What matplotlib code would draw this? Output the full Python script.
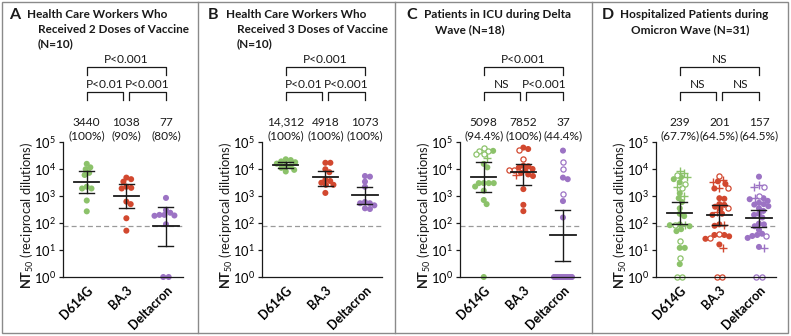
import numpy as np
import matplotlib
matplotlib.use("Agg")
import matplotlib.pyplot as plt
import matplotlib.transforms as mtransforms
from matplotlib.lines import Line2D
from matplotlib.patches import Rectangle

plt.rcParams['font.family'] = ['Lato', 'DejaVu Sans']
plt.rcParams['mathtext.fontset'] = 'custom'
plt.rcParams['mathtext.rm'] = 'Lato'
plt.rcParams['mathtext.bf'] = 'Lato:bold'
plt.rcParams['mathtext.it'] = 'Lato:italic'

# ---------------- data ----------------
categories = ["D614G", "BA.3", "Deltacron"]
colors = ["#8cc26a", "#d2482f", "#9c73c4"]
panel_letters = ["A", "B", "C", "D"]
panel_titles = [
    ["Health Care Workers Who", "Received 2 Doses of Vaccine", "(N=10)"],
    ["Health Care Workers Who", "Received 3 Doses of Vaccine", "(N=10)"],
    ["Patients in ICU during Delta", "Wave (N=18)"],
    ["Hospitalized Patients during", "Omicron Wave (N=31)"],
]
lod = 80

gmt_labels = [["3440", "1038", "77"], ["14,312", "4918", "1073"],
              ["5098", "7852", "37"], ["239", "201", "157"]]
pct_labels = [["100%", "90%", "80%"], ["100%", "100%", "100%"],
              ["94.4%", "100%", "44.4%"], ["67.7%", "64.5%", "64.5%"]]
gmt_values = [[3440, 1038, 77], [14312, 4918, 1073], [5098, 7852, 37], [239, 201, 157]]
ci_low = [[1260, 350, 14], [10500, 2400, 490], [1380, 2570, 4], [89, 85, 72]]
ci_high = [[8500, 2750, 400], [18600, 8500, 2240], [17800, 14800, 300], [620, 470, 300]]
p_top = ["P<0.001", "P<0.001", "P<0.001", "NS"]
p_left = ["P<0.01", "P<0.01", "NS", "NS"]
p_right = ["P<0.001", "P<0.001", "P<0.001", "NS"]

# NT50 values per panel / variant (1 = below detection, drawn on axis)
A_d614g_filled = [15500, 11500, 9800, 7200, 6000, 2200, 1900, 1900, 680, 270]
A_ba3_filled = [4800, 4200, 3400, 2200, 2000, 1900, 620, 500, 150, 52]
A_delta_filled = [850, 300, 240, 200, 200, 190, 185, 90, 1, 1]

B_d614g_filled = [22900, 21400, 19100, 17800, 15800, 13500, 12600, 11000, 9300, 8100]
B_ba3_filled = [17000, 17000, 9800, 7600, 4000, 3600, 3100, 2600, 2600, 1300]
B_delta_filled = [5500, 5200, 3400, 2200, 450, 600, 540, 540, 350, 330]

C_d614g_filled = [47000, 15500, 11500, 3000, 3000, 3000, 3000, 2240, 1580, 710, 500, 1]
C_d614g_open = [59000, 48000, 48000, 36000, 35000]
C_d614g_plus = [26000]
C_ba3_filled = [62000, 55000, 13200, 12600, 11200, 10000, 8900, 7100, 6300, 5500, 1800, 470, 275]
C_ba3_open = [50000, 23000, 9100, 9100]
C_ba3_plus = [6000]
C_delta_filled = [48000, 4800, 4200, 650, 160, 1, 1, 1, 1, 1, 1, 1, 1, 1, 1]
C_delta_open = [18000, 9800, 1150]
C_delta_plus = []

D_d614g_filled = [5000, 4200, 3200, 1260, 830, 600, 350, 220, 180, 89, 83, 76, 59, 50, 12, 12, 3]
D_d614g_open = [6000, 2800, 1900, 83, 21, 4.9, 1, 1]
D_d614g_plus = [8300, 7100, 5000, 2200, 1000, 85]
D_ba3_filled = [3500, 2800, 1900, 830, 790, 500, 470, 400, 330, 220, 200, 89, 79, 36, 36, 32, 26, 16]
D_ba3_open = [5500, 1900, 350, 38, 28, 1, 1]
D_ba3_plus = [4000, 3200, 2000, 250, 85, 12]
D_delta_filled = [5200, 830, 760, 660, 560, 500, 480, 420, 350, 280, 220, 200, 160, 95, 89, 76, 56, 40, 36, 33, 28, 13]
D_delta_open = [2200, 1000, 32, 1, 1]
D_delta_plus = [2500, 2100, 810, 12]

groups = [
    [(A_d614g_filled, [], []), (A_ba3_filled, [], []), (A_delta_filled, [], [])],
    [(B_d614g_filled, [], []), (B_ba3_filled, [], []), (B_delta_filled, [], [])],
    [(C_d614g_filled, C_d614g_open, C_d614g_plus), (C_ba3_filled, C_ba3_open, C_ba3_plus),
     (C_delta_filled, C_delta_open, C_delta_plus)],
    [(D_d614g_filled, D_d614g_open, D_d614g_plus), (D_ba3_filled, D_ba3_open, D_ba3_plus),
     (D_delta_filled, D_delta_open, D_delta_plus)],
]

# ---------------- layout ----------------
W, H = 791, 336
DPI = 100
fig = plt.figure(figsize=(W / DPI, H / DPI), dpi=DPI)


def fx(x):
    return x / W


def fy(y):
    return 1 - y / H


axis_left = [63, 262, 460, 656]
AX_W, AX_TOP, AX_BOT = 120, 142, 277
XLIM = (-0.6, 2.43)
px_per_unit = AX_W / (XLIM[1] - XLIM[0])
px_per_decade = (AX_BOT - AX_TOP) / 5.0
DIAM = 5.0


def swarm_offsets(vals):
    vals = np.asarray(vals, dtype=float)
    n = len(vals)
    off = np.zeros(n)
    ys = np.log10(vals) * px_per_decade
    zero_idx = [i for i in range(n) if vals[i] <= 1]
    nz = len(zero_idx)
    if nz > 1:
        sp = min(5.4, 18.0 / (nz - 1))
        for k, i in enumerate(zero_idx):
            off[i] = (k - (nz - 1) / 2) * sp
    placed = []
    order = [i for i in np.argsort(-ys) if vals[i] > 1]
    for i in order:
        cands = [0.0]
        for j in placed:
            dy = ys[i] - ys[j]
            if abs(dy) < DIAM:
                dx = np.sqrt(DIAM ** 2 - dy ** 2)
                cands += [off[j] + dx, off[j] - dx]
        cands = sorted(cands, key=abs)
        for c in cands:
            if all((c - off[j]) ** 2 + (ys[i] - ys[j]) ** 2 >= DIAM ** 2 - 1e-6 for j in placed):
                off[i] = c
                break
        placed.append(i)
    return off / px_per_unit


TXT = 8.6
ink = "#1a1a1a"

for p in range(4):
    L = axis_left[p]
    ax = fig.add_axes([fx(L), fy(AX_BOT), AX_W / W, (AX_BOT - AX_TOP) / H])
    ax.set_yscale('log')
    ax.set_ylim(1, 1e5)
    ax.set_xlim(*XLIM)
    for s in ['top', 'right']:
        ax.spines[s].set_visible(False)
    for s in ['left', 'bottom']:
        ax.spines[s].set_linewidth(0.9)
        ax.spines[s].set_color(ink)
    ax.set_yticks([1, 10, 100, 1e3, 1e4, 1e5])
    ax.set_yticklabels([r'$10^{%d}$' % k for k in range(6)], fontsize=9.3)
    ax.yaxis.set_minor_locator(matplotlib.ticker.NullLocator())
    ax.tick_params(axis='y', length=3, width=0.9, color=ink, pad=2)
    ax.set_xticks(range(3))
    ax.set_xticklabels(categories, rotation=45, ha='right', va='top',
                       rotation_mode='anchor', fontsize=9, fontweight='bold')
    ax.tick_params(axis='x', length=0, pad=5)
    ax.axhline(lod, color='#9a9a9a', lw=0.9, ls=(0, (4, 2.5)), zorder=1)

    for c in range(3):
        filled, opened, plus = groups[p][c]
        allv = list(filled) + list(opened) + list(plus)
        kinds = ['f'] * len(filled) + ['o'] * len(opened) + ['p'] * len(plus)
        offs = swarm_offsets(allv)
        xs = c + offs
        allv = np.asarray(allv, float)
        kinds = np.asarray(kinds)
        m = kinds == 'f'
        ax.scatter(xs[m], allv[m], s=19, marker='o', color=colors[c],
                   edgecolors='none', clip_on=False, zorder=2)
        m = kinds == 'o'
        if m.any():
            ax.scatter(xs[m], allv[m], s=14, marker='o', facecolors='white',
                       edgecolors=colors[c], linewidths=0.9, clip_on=False, zorder=2)
        m = kinds == 'p'
        if m.any():
            ax.scatter(xs[m], allv[m], s=26, marker='+', color=colors[c],
                       linewidths=1.0, clip_on=False, zorder=2)
        # error bars
        lo, hi, gm = ci_low[p][c], ci_high[p][c], gmt_values[p][c]
        ax.plot([c, c], [lo, hi], color=ink, lw=1.0, zorder=3, clip_on=False)
        ax.plot([c - 0.19, c + 0.19], [lo, lo], color=ink, lw=1.0, zorder=3, clip_on=False)
        ax.plot([c - 0.19, c + 0.19], [hi, hi], color=ink, lw=1.0, zorder=3, clip_on=False)
        ax.plot([c - 0.32, c + 0.32], [gm, gm], color=ink, lw=1.3, zorder=3, clip_on=False)

    trans = mtransforms.blended_transform_factory(ax.transData, ax.transAxes)
    for c in range(3):
        ax.text(c, 1.148, gmt_labels[p][c], transform=trans, ha='center', va='center',
                fontsize=TXT, color=ink)
        ax.text(c, 1.044, "(" + pct_labels[p][c] + ")", transform=trans, ha='center',
                va='center', fontsize=TXT, color=ink)

    def bracket(x0, x1, yb, yt, label):
        ax.add_line(Line2D([x0, x0, x1, x1], [yb, yt, yt, yb], transform=trans,
                           color=ink, lw=0.9, clip_on=False))
        ax.text((x0 + x1) / 2, yt + 0.055, label, transform=trans, ha='center',
                va='center', fontsize=TXT, color=ink)
    bracket(0, 2, 1.496, 1.556, p_top[p])
    bracket(0, 0.91, 1.311, 1.370, p_left[p])
    bracket(1.07, 2, 1.311, 1.370, p_right[p])

    # y label
    fig.text(fx(L - 36), fy(215), r'$\mathbf{NT}_{\mathrm{50}}$ (reciprocal dilutions)',
             rotation=90, ha='center', va='center', fontsize=9.3, color=ink)
    # titles
    fig.text(fx(L - 54), fy(15), panel_letters[p], ha='left', va='center',
             fontsize=11.5, fontweight='bold', color=ink)
    for k, line in enumerate(panel_titles[p]):
        xpos = L - 36 if k == 0 else L - 25
        fig.text(fx(xpos), fy(15 + 14.5 * k), line, ha='left', va='center',
                 fontsize=8.5, fontweight='bold', color=ink)

# frame and separators
fig.add_artist(Rectangle((fx(1.5), fy(333)), (787.5 - 1.5) / W, (333 - 1.5) / H,
                         transform=fig.transFigure, fill=False, edgecolor='#8a8a8a', lw=1.0))
for xs_ in [198, 395, 592]:
    fig.add_artist(Line2D([fx(xs_), fx(xs_)], [fy(1.5), fy(333)], transform=fig.transFigure,
                          color='#8a8a8a', lw=1.0))

fig.savefig("out.png", dpi=DPI)
